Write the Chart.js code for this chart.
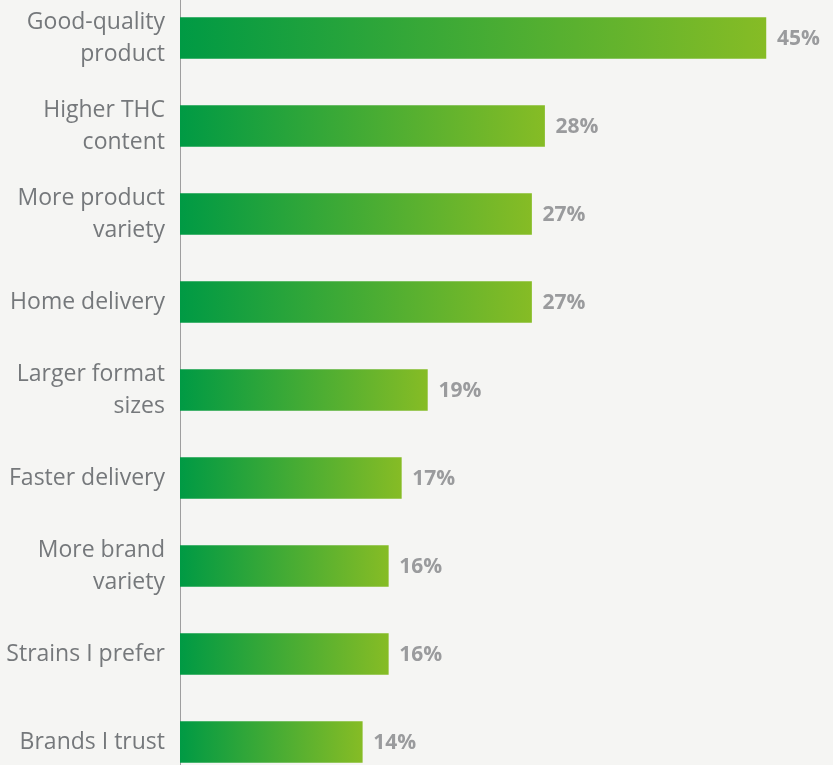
<!DOCTYPE html>
<html lang="en">
<head>
    <meta charset="UTF-8">
    <title>Reasons for purchase</title>
    <style>
        html, body {
            margin: 0;
            padding: 0;
            background: #f5f5f3;
            overflow: hidden;
        }
        .wrap {
            position: absolute;
            left: 0;
            top: -6px;
            width: 833px;
            height: 792px;
        }
    </style>
    <script src="https://cdn.jsdelivr.net/npm/chart.js"></script>
</head>
<body>
    <div class="wrap">
        <canvas id="barChart"></canvas>
    </div>
    <script>
        // categories (multi-line labels) and values in %
        const categories = [
            ['Good-quality', 'product'],
            ['Higher THC', 'content'],
            ['More product', 'variety'],
            ['Home delivery'],
            ['Larger format', 'sizes'],
            ['Faster delivery'],
            ['More brand', 'variety'],
            ['Strains I prefer'],
            ['Brands I trust']
        ];
        const values = [45, 28, 27, 27, 19, 17, 16, 16, 14];

        const darkGreen = '#009a44';
        const lightGreen = '#86bc25';

        // each bar gets its own left-to-right gradient
        function barGradient(ctx) {
            const chart = ctx.chart;
            if (!chart.chartArea || ctx.type !== 'data') return darkGreen;
            const x = chart.scales.x;
            const x0 = x.getPixelForValue(0);
            const x1 = x.getPixelForValue(ctx.raw);
            const g = chart.ctx.createLinearGradient(x0, 0, x1, 0);
            g.addColorStop(0, darkGreen);
            g.addColorStop(1, lightGreen);
            return g;
        }

        // percent labels at the end of each bar
        const valueLabels = {
            id: 'valueLabels',
            afterDatasetsDraw(chart) {
                const ctx = chart.ctx;
                const meta = chart.getDatasetMeta(0);
                ctx.save();
                ctx.font = 'bold 21px "Open Sans"';
                ctx.fillStyle = '#9a9b9d';
                ctx.textAlign = 'left';
                ctx.textBaseline = 'middle';
                meta.data.forEach((bar, i) => {
                    ctx.fillText(values[i] + '%', bar.x + 11, bar.y + 1);
                });
                ctx.restore();
            }
        };

        new Chart(document.getElementById('barChart'), {
            type: 'bar',
            data: {
                labels: categories,
                datasets: [{
                    data: values,
                    backgroundColor: barGradient,
                    barThickness: 41,
                    borderWidth: 0
                }]
            },
            options: {
                indexAxis: 'y',
                responsive: true,
                maintainAspectRatio: false,
                animation: false,
                layout: { padding: { top: 0, right: 2, bottom: 0, left: 0 } },
                plugins: {
                    legend: { display: false },
                    tooltip: { enabled: false }
                },
                scales: {
                    x: {
                        display: false,
                        min: 0,
                        max: 50
                    },
                    y: {
                        afterFit(scale) {
                            scale.width = 180;
                            scale.paddingTop = 0;
                            scale.paddingBottom = 0;
                        },
                        grid: { display: false, drawTicks: false },
                        border: { display: true, color: '#9e9e9e', width: 1 },
                        ticks: {
                            padding: 15,
                            color: '#75787b',
                            font: { family: '"Open Sans"', size: 23, lineHeight: 1.39 }
                        }
                    }
                }
            },
            plugins: [valueLabels]
        });
    </script>
</body>
</html>
